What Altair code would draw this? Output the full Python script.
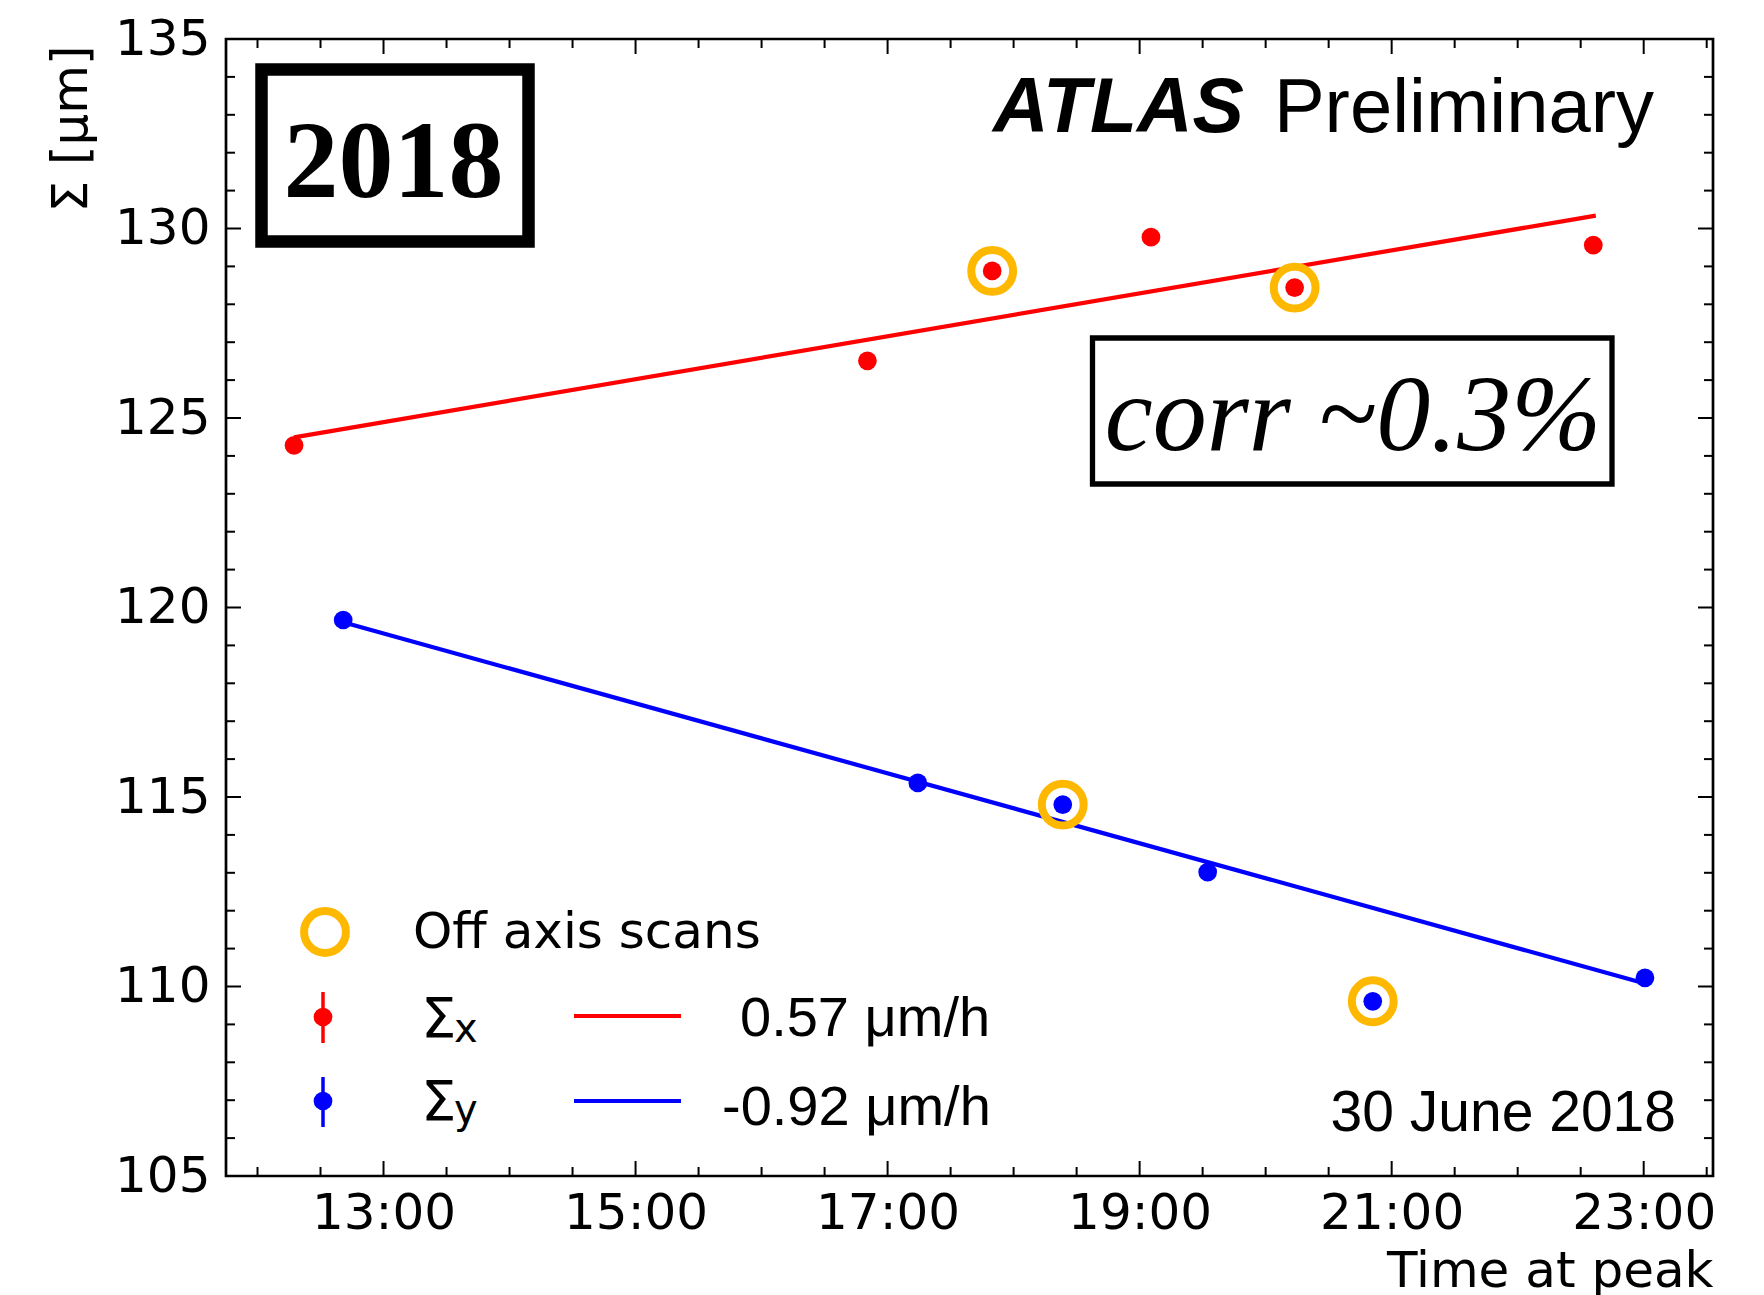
import altair as alt
import pandas as pd

# ---------------- data ----------------
red_time = [12.29, 16.84, 17.83, 19.09, 20.23, 22.60]
red_sigma = [124.28, 126.51, 128.88, 129.77, 128.44, 129.56]
red_offaxis = [False, False, True, False, True, False]

blue_time = [12.68, 17.24, 18.39, 19.54, 20.85, 23.01]
blue_sigma = [119.67, 115.37, 114.80, 113.02, 109.61, 110.23]
blue_offaxis = [False, False, True, False, True, False]

fit_red_time = [12.29, 22.62]
fit_red_sigma = [124.49, 130.34]
fit_blue_time = [12.68, 23.01]
fit_blue_sigma = [119.61, 110.08]

x_major = [13, 15, 17, 19, 21, 23]
x_minor = [12, 12.5, 13.5, 14, 14.5, 15.5, 16, 16.5, 17.5, 18, 18.5,
           19.5, 20, 20.5, 21.5, 22, 22.5, 23.5]
y_major = [105, 110, 115, 120, 125, 130, 135]
y_minor = [v for v in range(106, 135) if v % 5 != 0]

slope_red = "0.57 μm/h"
slope_blue = "-0.92 μm/h"

# ---------------- layout constants ----------------
W, H = 1487, 1137
RED = "#FF0000"
BLUE = "#0000FF"
GOLD = "#FFB800"
SANS = "DejaVu Sans"
ARIAL = "Liberation Sans"
SERIF = "Liberation Serif"
RING_SIZE = 1750
RING_W = 8
DOT_SIZE = 350
LINE_W = 4.2

xscale = alt.Scale(domain=[11.75, 23.55], nice=False, zero=False)
yscale = alt.Scale(domain=[105, 135], nice=False, zero=False)

xaxis = alt.Axis(values=x_major, labelExpr="format(datum.value, 'd') + ':00'",
                 ticks=False, domain=False, grid=False, labelFlush=False,
                 labelFont=SANS, labelFontSize=50, labelColor="black",
                 labelPadding=12,
                 title="Time at peak", titleFont=SANS, titleFontSize=50,
                 titleFontWeight="normal", titleColor="black",
                 titleAnchor="end", titleAlign="right", titleX=W, titleY=110,
                 titleBaseline="alphabetic")
yaxis = alt.Axis(values=y_major, format="d", ticks=False, domain=False,
                 grid=False, labelFont=SANS, labelFontSize=50,
                 labelColor="black", labelPadding=16, labelFlush=False,
                 title="Σ [μm]", titleFont=SANS, titleFontSize=50,
                 titleFontWeight="normal", titleColor="black",
                 titleAngle=270, titleAlign="right", titleBaseline="middle",
                 titleX=-155, titleY=6)

X = alt.X("t:Q", scale=xscale, axis=xaxis)
Y = alt.Y("s:Q", scale=yscale, axis=yaxis)

red_df = pd.DataFrame({"t": red_time, "s": red_sigma, "off": red_offaxis})
blue_df = pd.DataFrame({"t": blue_time, "s": blue_sigma, "off": blue_offaxis})
off_df = pd.concat([red_df[red_df.off], blue_df[blue_df.off]])

layers = []

# fit lines
layers.append(alt.Chart(pd.DataFrame({"t": fit_red_time, "s": fit_red_sigma}))
              .mark_line(color=RED, strokeWidth=LINE_W).encode(x=X, y=Y))
layers.append(alt.Chart(pd.DataFrame({"t": fit_blue_time, "s": fit_blue_sigma}))
              .mark_line(color=BLUE, strokeWidth=LINE_W).encode(x=X, y=Y))

# points
layers.append(alt.Chart(red_df).mark_circle(color=RED, size=DOT_SIZE, opacity=1)
              .encode(x=X, y=Y))
layers.append(alt.Chart(blue_df).mark_circle(color=BLUE, size=DOT_SIZE, opacity=1)
              .encode(x=X, y=Y))
# off axis rings
layers.append(alt.Chart(off_df).mark_point(shape="circle", filled=False,
                                           color=GOLD, size=RING_SIZE,
                                           strokeWidth=RING_W, opacity=1)
              .encode(x=X, y=Y))

# inward ticks
def xticks(vals, length):
    df = pd.DataFrame({"t": vals})
    bottom = alt.Chart(df).mark_rule(color="black", strokeWidth=2).encode(
        x=X, y=alt.value(H), y2=alt.value(H - length))
    top = alt.Chart(df).mark_rule(color="black", strokeWidth=2).encode(
        x=X, y=alt.value(0), y2=alt.value(length))
    return [bottom, top]

def yticks(vals, length):
    df = pd.DataFrame({"s": vals})
    left = alt.Chart(df).mark_rule(color="black", strokeWidth=2).encode(
        y=Y, x=alt.value(0), x2=alt.value(length))
    right = alt.Chart(df).mark_rule(color="black", strokeWidth=2).encode(
        y=Y, x=alt.value(W), x2=alt.value(W - length))
    return [left, right]

layers += xticks(x_major, 15) + xticks(x_minor, 9)
layers += yticks(y_major, 15) + yticks(y_minor, 9)

one = pd.DataFrame({"k": [0]})

def text(label, x, y, font, size, weight="normal", style="normal",
         align="left", baseline="alphabetic", color="black"):
    return alt.Chart(pd.DataFrame({"label": [label]})).mark_text(
        font=font, fontSize=size, fontWeight=weight, fontStyle=style,
        align=align, baseline=baseline, color=color).encode(
        text="label:N", x=alt.value(x), y=alt.value(y))

def box(x1, x2, y1, y2, sw):
    return alt.Chart(one).mark_rect(fillOpacity=0, stroke="black",
                                    strokeWidth=sw).encode(
        x=alt.value(x1), x2=alt.value(x2), y=alt.value(y1), y2=alt.value(y2))

def seg(x1, x2, y1, y2, color, sw):
    return alt.Chart(one).mark_rule(color=color, strokeWidth=sw).encode(
        x=alt.value(x1), x2=alt.value(x2), y=alt.value(y1), y2=alt.value(y2))

def dot(x, y, color, size, ring=False):
    if ring:
        m = alt.Chart(one).mark_point(shape="circle", filled=False, color=color,
                                      size=size, strokeWidth=RING_W, opacity=1)
    else:
        m = alt.Chart(one).mark_circle(color=color, size=size, opacity=1)
    return m.encode(x=alt.value(x), y=alt.value(y))

# annotations
layers.append(box(35.5, 302.5, 30.5, 202.5, 12.5))
layers.append(text("2018", 167.5, 158, SERIF, 110, weight="bold", align="center"))
layers.append(text("ATLAS", 767, 93, ARIAL, 77, weight="bold", style="italic"))
layers.append(text("Preliminary", 1428, 93, ARIAL, 76, align="right"))
layers.append(box(866.5, 1386, 299, 445, 5.3))
layers.append(text("corr ~0.3%", 1127, 411, SERIF, 108, style="italic",
                   align="center"))
layers.append(text("30 June 2018", 1450, 1092, ARIAL, 57, align="right"))

# legend
layers.append(dot(99, 893, GOLD, RING_SIZE, ring=True))
layers.append(text("Off axis scans", 187, 909, SANS, 50))

layers.append(seg(97, 97, 953, 1004, RED, 3.5))
layers.append(dot(97, 978, RED, DOT_SIZE))
layers.append(text("Σ", 195, 998, SANS, 56))
layers.append(text("x", 228, 1003, SANS, 40))
layers.append(seg(348, 455, 977, 977, RED, LINE_W))
layers.append(text(slope_red, 514, 997, ARIAL, 56))

layers.append(seg(97, 97, 1038, 1088, BLUE, 3.5))
layers.append(dot(97, 1062, BLUE, DOT_SIZE))
layers.append(text("Σ", 195, 1081, SANS, 56))
layers.append(text("y", 228, 1084, SANS, 40))
layers.append(seg(348, 455, 1062, 1062, BLUE, LINE_W))
layers.append(text(slope_blue, 496, 1086, ARIAL, 56))

chart = alt.layer(*layers).properties(
    width=W, height=H,
    autosize=alt.AutoSizeParams(type="none"),
    padding={"left": 226, "top": 39, "right": 51, "bottom": 119},
    background="white",
).configure_view(stroke="black", strokeWidth=2.7)

chart.save("out.html", embed_options={"renderer": "svg", "actions": False})
